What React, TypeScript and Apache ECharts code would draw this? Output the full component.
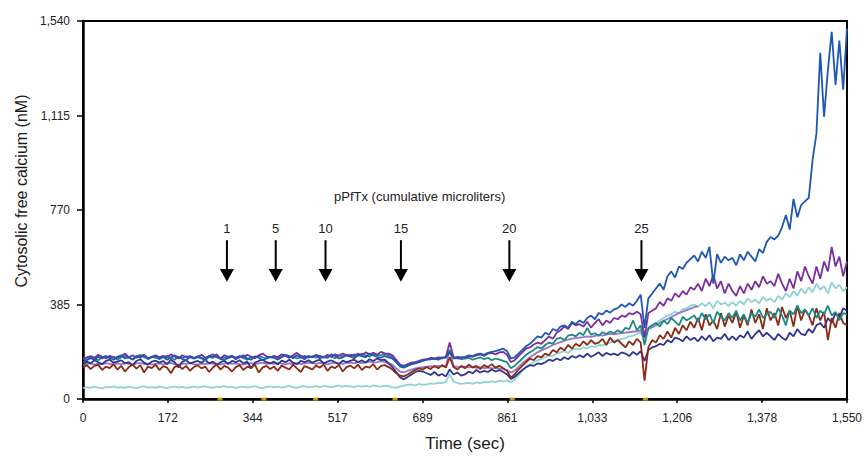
import React, { useEffect, useRef } from "react";
import * as echarts from "echarts";

// ---- Data (nM), sampled every 7.75 s from 0 to 1550 s ----
const T_STEP = 7.75;

const blue = [
  150,158,166,160,172,165,175,168,160,172,
  178,165,170,160,174,168,180,162,170,176,
  165,172,160,168,178,170,163,158,172,166,
  174,168,160,176,170,182,165,158,170,175,
  162,170,178,165,160,174,168,158,166,172,
  168,160,172,180,175,166,178,170,162,174,
  170,178,165,172,168,182,175,165,170,178,
  172,166,180,175,170,185,178,172,168,175,
  170,165,150,135,130,138,142,145,150,155,
  160,162,165,160,168,170,190,168,172,170,
  172,178,175,182,185,180,188,192,195,200,
  205,195,165,170,185,200,215,225,240,255,
  250,270,262,285,278,295,300,290,315,305,
  320,310,330,340,325,350,345,360,352,365,
  370,385,375,390,380,400,425,290,410,430,
  450,470,445,500,520,495,540,530,555,570,
  585,560,600,575,620,470,590,555,580,565,
  575,545,590,565,600,580,560,610,595,640,
  660,650,665,700,750,690,815,740,790,805,
  820,975,1080,1410,1150,1340,1496,1280,1460,1260,
  1510,
];

const purple = [
  162,170,175,168,180,172,165,176,170,168,
  175,185,170,178,168,174,180,165,172,178,
  170,176,168,182,172,165,178,170,175,168,
  172,180,168,175,182,170,165,178,172,176,
  168,175,170,180,172,166,178,185,174,170,
  176,170,182,175,168,178,188,176,170,175,
  172,180,175,168,178,172,182,176,185,178,
  180,175,185,178,190,182,188,180,192,186,
  185,178,160,140,135,142,148,150,155,160,
  162,168,165,170,168,172,230,170,165,168,
  170,175,172,178,182,175,185,188,182,190,
  192,180,150,158,175,190,205,210,222,230,
  225,240,255,245,270,280,295,285,310,300,
  305,295,315,290,310,325,300,320,310,330,
  325,340,335,350,345,355,345,250,350,360,
  370,395,380,410,400,430,415,440,425,455,
  445,470,440,490,460,505,450,480,430,470,
  440,420,460,430,470,445,480,455,500,470,
  480,460,510,470,440,490,450,520,480,540,
  500,470,540,490,560,520,620,540,580,500,
  560,
];

const teal = [
  168,160,172,165,158,170,175,166,172,160,
  170,176,168,162,174,180,170,165,172,168,
  162,170,176,168,160,172,166,174,170,164,
  170,165,158,172,168,176,162,170,166,172,
  168,174,166,160,172,168,176,170,164,170,
  172,166,170,178,168,174,165,170,176,168,
  174,168,176,170,180,172,166,178,174,180,
  176,182,175,185,178,172,186,180,178,184,
  178,170,150,132,128,135,142,148,152,158,
  160,165,162,168,165,170,200,165,168,162,
  165,168,160,165,170,162,168,158,165,160,
  155,150,125,135,150,165,180,190,200,212,
  205,220,230,225,245,250,240,258,262,255,
  270,260,290,262,268,258,272,265,275,268,
  280,270,290,285,320,280,300,220,290,300,
  310,295,320,305,330,315,300,335,320,330,
  340,315,350,325,345,310,355,335,320,350,
  330,360,320,345,310,350,335,365,330,345,
  355,330,370,340,300,360,345,380,350,365,
  340,370,330,360,345,380,340,355,320,350,
  345,
];

const lavender = [
  138,142,145,140,144,141,146,143,140,145,
  142,146,143,140,145,147,142,144,140,143,
  145,141,144,147,142,140,145,143,146,142,
  140,144,142,146,143,145,141,144,147,143,
  145,142,140,144,146,142,145,148,143,146,
  143,147,144,141,145,143,146,142,145,148,
  146,143,147,144,141,146,148,145,143,147,
  148,145,150,146,149,152,148,150,154,150,
  146,140,125,112,108,115,120,125,128,130,
  132,134,131,135,133,136,200,134,131,130,
  132,129,131,127,130,126,128,125,127,124,
  122,118,108,115,130,145,158,170,180,190,
  198,205,212,220,226,232,238,242,246,248,
  250,252,255,253,257,260,258,262,265,263,
  266,268,270,272,274,276,280,255,285,292,
  300,310,318,326,334,342,350,356,362,368,
  374,378,
];

const brown = [
  128,138,122,135,140,118,132,126,142,120,
  135,112,130,140,124,138,108,132,126,140,
  118,134,128,105,130,138,122,135,115,130,
  138,125,132,110,128,140,120,135,128,112,
  130,138,118,132,126,140,108,128,135,122,
  132,115,136,128,120,140,125,110,134,128,
  120,136,128,140,115,132,126,138,112,130,
  136,125,140,118,132,128,142,120,135,138,
  130,120,105,95,92,100,110,118,125,120,
  130,122,135,125,138,128,170,130,120,135,
  125,140,128,135,122,138,130,142,128,135,
  125,115,88,100,120,135,150,165,158,175,
  170,185,178,200,190,210,198,220,205,225,
  215,235,220,240,225,230,245,220,250,230,
  240,225,210,235,220,245,230,75,210,240,
  230,260,245,275,250,290,265,300,280,315,
  290,330,280,345,300,320,285,350,295,340,
  310,355,290,340,300,365,310,345,285,370,
  320,350,300,375,330,360,295,380,320,365,
  340,300,370,320,355,240,330,290,350,310,
  300,
];

const navy = [
  140,152,145,158,150,142,155,160,148,152,
  158,145,150,138,155,162,148,140,152,156,
  148,155,142,160,150,128,152,158,145,150,
  155,148,160,145,152,138,150,156,142,155,
  150,158,145,152,125,148,155,160,150,145,
  152,140,156,150,160,148,142,155,150,158,
  148,155,160,145,152,158,150,142,156,150,
  155,160,150,158,148,162,155,165,158,160,
  145,130,110,88,80,90,100,110,115,112,
  105,98,110,95,102,92,120,100,108,95,
  100,112,105,118,108,115,110,120,112,118,
  110,100,82,90,105,118,130,138,135,145,
  142,150,160,155,165,158,170,162,175,168,
  178,170,185,172,180,190,175,188,180,185,
  178,190,185,175,192,180,195,155,200,210,
  215,225,220,240,230,250,245,235,255,240,
  250,235,255,240,260,235,250,245,265,240,
  255,240,260,250,275,245,265,280,255,270,
  255,240,265,250,240,270,255,285,265,260,
  285,270,300,310,290,330,310,350,330,370,
  360,
];

const cyan = [
  44,48,45,50,46,43,49,47,51,46,
  48,45,50,47,44,49,52,46,48,45,
  50,47,44,48,51,46,49,45,47,50,
  46,49,52,47,45,50,48,53,47,49,
  45,48,50,46,49,52,47,44,48,51,
  47,50,46,49,53,48,45,50,52,47,
  49,52,48,54,50,47,52,55,50,53,
  51,48,54,50,53,49,55,52,50,54,
  52,48,45,50,55,58,60,55,62,58,
  60,64,62,66,65,70,102,72,65,62,
  64,66,62,68,65,70,68,72,70,74,
  72,76,68,80,95,115,130,140,150,158,
  162,170,178,175,185,190,195,188,200,205,
  202,210,206,215,212,220,218,225,230,235,
  240,245,248,255,258,265,270,240,285,300,
  310,320,330,340,345,355,350,365,370,380,
  385,375,390,378,395,370,400,385,392,380,
  395,380,400,385,410,395,405,390,415,400,
  410,395,420,405,430,415,440,420,450,430,
  455,435,470,445,460,430,475,450,465,440,
  455,
];

const seriesNames = ["cyan", "lavender", "navy", "brown", "teal", "purple", "blue"];
const seriesValues = [cyan, lavender, navy, brown, teal, purple, blue];
const seriesColors = ["#8fd3d4", "#9a74c6", "#2e3592", "#8b2b15", "#1b8a86", "#7c2f9e", "#1f57b4"];

const xTickLabels = ["0", "172", "344", "517", "689", "861", "1,033", "1,206", "1,378", "1,550"];
const yTickLabels = ["0", "385", "770", "1,115", "1,540"];
const X_MAX = 1550;
const Y_MAX = 1540;

// Injection arrows: times (s) and cumulative microliters
const arrowTimes = [292, 391, 492, 645, 865, 1133];
const arrowLabels = ["1", "5", "10", "15", "20", "25"];
// Small yellow marks on the time axis
const markerTimes = [278, 367, 472, 633, 871, 1141];

const ANNOT_TITLE = "pPfTx (cumulative microliters)";

export default function App() {
  const ref = useRef<HTMLDivElement>(null);

  useEffect(() => {
    if (!ref.current) return;
    const chart = echarts.init(ref.current, null, { renderer: "svg" });
    const font = "'Liberation Sans', Arial, sans-serif";
    const xInterval = X_MAX / 9;
    const yInterval = Y_MAX / 4;

    const series: any[] = seriesValues.map((vals, k) => ({
      name: seriesNames[k],
      type: "line",
      data: vals.map((v, i) => [i * T_STEP, v]),
      showSymbol: false,
      symbol: "none",
      lineStyle: { width: 1.8, color: seriesColors[k] },
      itemStyle: { color: seriesColors[k] },
      z: 3 + k,
    }));

    series.push({
      name: "markers",
      type: "scatter",
      data: markerTimes.map((t) => [t, 0]),
      symbol: "rect",
      symbolSize: [5, 3],
      itemStyle: { color: "#f2c200" },
      clip: false,
      z: 20,
    });

    chart.setOption({
      animation: false,
      backgroundColor: "#ffffff",
      textStyle: { fontFamily: font },
      grid: {
        left: 83,
        right: 13,
        top: 21,
        bottom: 55,
        show: true,
        borderColor: "#000",
        borderWidth: 2,
        backgroundColor: "transparent",
      },
      xAxis: {
        type: "value",
        min: 0,
        max: X_MAX,
        interval: xInterval,
        name: "Time (sec)",
        nameLocation: "middle",
        nameGap: 36,
        nameTextStyle: { fontSize: 17, color: "#1a1a1a", fontFamily: font },
        axisLine: { show: true, lineStyle: { color: "#000", width: 2.5 } },
        axisTick: { show: true, length: 4, lineStyle: { color: "#000", width: 1.5 } },
        axisLabel: {
          fontSize: 12,
          color: "#222",
          margin: 13,
          fontFamily: font,
          formatter: (v: number) => xTickLabels[Math.round(v / xInterval)] ?? "",
        },
        splitLine: { show: false },
      },
      yAxis: {
        type: "value",
        min: 0,
        max: Y_MAX,
        interval: yInterval,
        name: "Cytosolic free calcium (nM)",
        nameLocation: "middle",
        nameGap: 52,
        nameTextStyle: {
          fontSize: 16,
          color: "#1a1a1a",
          fontFamily: font,
          padding: [0, 0, 0, 38],
        },
        axisLine: { show: true, lineStyle: { color: "#000", width: 2.5 } },
        axisTick: { show: true, length: 6, lineStyle: { color: "#000", width: 1.5 } },
        axisLabel: {
          fontSize: 12,
          color: "#222",
          margin: 13,
          fontFamily: font,
          formatter: (v: number) => yTickLabels[Math.round(v / yInterval)] ?? "",
        },
        splitLine: { show: false },
      },
      series,
    });

    // Arrow annotations positioned through the chart's own scales
    const ARROW_TOP = 647;
    const ARROW_HEAD_START = 530;
    const ARROW_TIP = 478;
    const LABEL_LEVEL = 695;
    const TITLE_LEVEL = 825;
    const TITLE_TIME = 683;

    const graphics: any[] = [];
    arrowTimes.forEach((t, k) => {
      const [x, yTop] = chart.convertToPixel({ gridIndex: 0 }, [t, ARROW_TOP]) as number[];
      const [, yHead] = chart.convertToPixel({ gridIndex: 0 }, [t, ARROW_HEAD_START]) as number[];
      const [, yTip] = chart.convertToPixel({ gridIndex: 0 }, [t, ARROW_TIP]) as number[];
      const [, yLab] = chart.convertToPixel({ gridIndex: 0 }, [t, LABEL_LEVEL]) as number[];
      graphics.push({
        type: "line",
        shape: { x1: x, y1: yTop, x2: x, y2: yHead + 1 },
        style: { stroke: "#000", lineWidth: 2 },
        z: 50,
      });
      graphics.push({
        type: "polygon",
        shape: { points: [[x - 7, yHead], [x + 7, yHead], [x, yTip]] },
        style: { fill: "#000" },
        z: 50,
      });
      graphics.push({
        type: "text",
        x,
        y: yLab,
        style: {
          text: arrowLabels[k],
          fill: "#222",
          font: `13px ${font}`,
          textAlign: "center",
          textVerticalAlign: "middle",
        },
        z: 50,
      });
    });
    const [tx, ty] = chart.convertToPixel({ gridIndex: 0 }, [TITLE_TIME, TITLE_LEVEL]) as number[];
    graphics.push({
      type: "text",
      x: tx,
      y: ty,
      style: {
        text: ANNOT_TITLE,
        fill: "#222",
        font: `13px ${font}`,
        textAlign: "center",
        textVerticalAlign: "middle",
      },
      z: 50,
    });
    chart.setOption({ graphic: graphics });

    return () => {
      chart.dispose();
    };
  }, []);

  return (
    <div
      ref={ref}
      style={{ position: "fixed", left: 0, top: 0, width: 865, height: 457, background: "#fff" }}
    />
  );
}
